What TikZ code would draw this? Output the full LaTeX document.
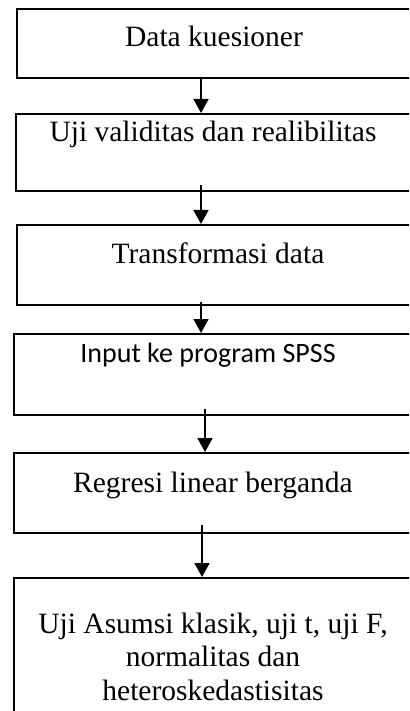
\documentclass[tikz,border=0pt]{standalone}
\usepackage{fontspec}
\setmainfont{Liberation Serif}
\newfontfamily\calibri{Carlito}
\usetikzlibrary{arrows.meta}

\begin{document}
\begin{tikzpicture}[x=1pt, y=1pt,
  box/.style={draw, line width=1.8pt, rectangle, inner sep=0pt,
    anchor=north west, minimum width=480pt},
  lbl/.style={inner sep=0pt, anchor=base, align=center,
    font=\fontsize{29.5}{33.5}\selectfont},
  arr/.style={line width=1.8pt, -{Triangle[width=15pt,length=14pt]}}]
  \clip (0,0) rectangle (409,-711);

  % boxes (right sides run off the page)
  \node[box, minimum height=69pt] (b1) at (16,-8) {};
  \node[box, minimum height=77pt] (b2) at (15,-113) {};
  \node[box, minimum height=80pt] (b3) at (16,-224) {};
  \node[box, minimum height=81pt] (b4) at (13,-333) {};
  \node[box, minimum height=80pt] (b5) at (13,-452) {};
  \node[box, minimum height=200pt] (b6) at (13,-577) {};

  % texts near the top of each box
  \node[lbl] (t1) at (214,-47) {Data kuesioner};
  \node[lbl] (t2) at (213,-142) {Uji validitas dan realibilitas};
  \node[lbl] (t3) at (218,-263) {Transformasi data};
  \node[lbl, font=\calibri\fontsize{28}{33}\selectfont] (t4) at (208,-362) {Input ke program SPSS};
  \node[lbl] (t5) at (213,-492) {Regresi linear berganda};
  % base of a three-line node is its last line
  \node[lbl] (t6) at (213,-700) {Uji Asumsi klasik, uji t, uji F,\\ normalitas dan\\ heteroskedastisitas};

  \draw[arr] ([shift={(185,2)}]b1.south west) -- ([xshift=185pt]b1.south west |- b2.north);
  \draw[arr] ([shift={(186,7)}]b2.south west) -- ([xshift=186pt]b2.south west |- b3.north);
  \draw[arr] ([shift={(185,4)}]b3.south west) -- ([xshift=185pt]b3.south west |- b4.north);
  \draw[arr] ([shift={(192,7)}]b4.south west) -- ([xshift=192pt]b4.south west |- b5.north);
  \draw[arr] ([shift={(189,9)}]b5.south west) -- ([xshift=189pt]b5.south west |- b6.north);
\end{tikzpicture}
\end{document}
